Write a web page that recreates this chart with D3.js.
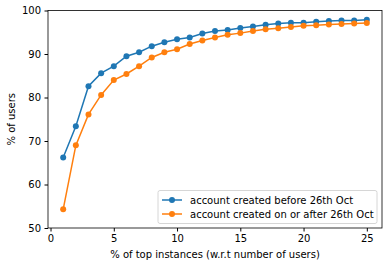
<!DOCTYPE html>
<html>
<head>
<meta charset="utf-8">
<script src="https://cdn.jsdelivr.net/npm/d3@7"></script>
<style>
  body { margin: 0; background: #fff; }
  text { font-family: "DejaVu Sans", sans-serif; fill: #000; }
</style>
</head>
<body>
<div id="app"></div>
<script>
const topPct = d3.range(1, 26);
const before = [66.2, 73.4, 82.6, 85.6, 87.2, 89.5, 90.4, 91.8, 92.7, 93.4, 93.8, 94.7, 95.3, 95.5, 96.0,
  96.3, 96.7, 97.0, 97.2, 97.2, 97.4, 97.6, 97.7, 97.7, 97.9];
const after = [54.3, 69.0, 76.1, 80.6, 84.0, 85.4, 87.2, 89.2, 90.4, 91.1, 92.3, 93.1, 93.8, 94.4, 94.8,
  95.3, 95.7, 95.9, 96.2, 96.5, 96.6, 96.8, 96.9, 97.0, 97.1];
const seriesNames = ["account created before 26th Oct", "account created on or after 26th Oct"];
const xTicks = [0, 5, 10, 15, 20, 25];
const yTicks = [50, 60, 70, 80, 90, 100];

const W = 389, H = 266;
const mLeft = 48, mRight = 382, mTop = 10.5, mBottom = 228;

const svg = d3.select("#app").append("svg")
  .attr("width", W)
  .attr("height", H);

const x = d3.scaleLinear([-0.2, 26.2], [mLeft, mRight]);
const y = d3.scaleLinear([50, 100], [mBottom, mTop]);

// axes
svg.append("g")
  .attr("transform", `translate(0,${mBottom})`)
  .call(d3.axisBottom(x).tickValues(xTicks).tickSize(3.5).tickPadding(3.5).tickFormat(d3.format("d")))
  .call(g => g.select(".domain").remove())
  .call(g => g.selectAll("text").attr("font-size", 10));

svg.append("g")
  .attr("transform", `translate(${mLeft},0)`)
  .call(d3.axisLeft(y).tickValues(yTicks).tickSize(3.5).tickPadding(3.5))
  .call(g => g.select(".domain").remove())
  .call(g => g.selectAll("text").attr("font-size", 10));

const colors = ["#1f77b4", "#ff7f0e"];
const line = d3.line().x((d, i) => x(topPct[i])).y(d => y(d));

[before, after].forEach((vals, k) => {
  svg.append("path")
    .datum(vals)
    .attr("d", line)
    .attr("fill", "none")
    .attr("stroke", colors[k])
    .attr("stroke-width", 1.5);
  svg.append("g").selectAll("circle")
    .data(vals)
    .join("circle")
    .attr("cx", (d, i) => x(topPct[i]))
    .attr("cy", d => y(d))
    .attr("r", 3)
    .attr("fill", colors[k]);
});

// frame
svg.append("rect")
  .attr("x", mLeft).attr("y", mTop)
  .attr("width", mRight - mLeft).attr("height", mBottom - mTop)
  .attr("fill", "none").attr("stroke", "#000").attr("stroke-width", 0.8);

// labels
svg.append("text")
  .attr("x", (mLeft + mRight) / 2).attr("y", 258)
  .attr("text-anchor", "middle").attr("font-size", 10)
  .text("% of top instances (w.r.t number of users)");

svg.append("text")
  .attr("transform", `translate(15,${(mTop + mBottom) / 2}) rotate(-90)`)
  .attr("text-anchor", "middle").attr("font-size", 10)
  .text("% of users");

// legend
const lg = svg.append("g").attr("transform", "translate(158,190.5)");
lg.append("rect")
  .attr("width", 219).attr("height", 33).attr("rx", 2)
  .attr("fill", "#fff").attr("fill-opacity", 0.8)
  .attr("stroke", "#ccc").attr("stroke-width", 0.8);
seriesNames.forEach((name, k) => {
  const yy = 9.5 + k * 14;
  lg.append("line").attr("x1", 4).attr("x2", 24).attr("y1", yy).attr("y2", yy)
    .attr("stroke", colors[k]).attr("stroke-width", 1.5);
  lg.append("circle").attr("cx", 14).attr("cy", yy).attr("r", 3).attr("fill", colors[k]);
  lg.append("text").attr("x", 32).attr("y", yy).attr("dy", "0.35em")
    .attr("font-size", 10).text(name);
});
</script>
</body>
</html>
